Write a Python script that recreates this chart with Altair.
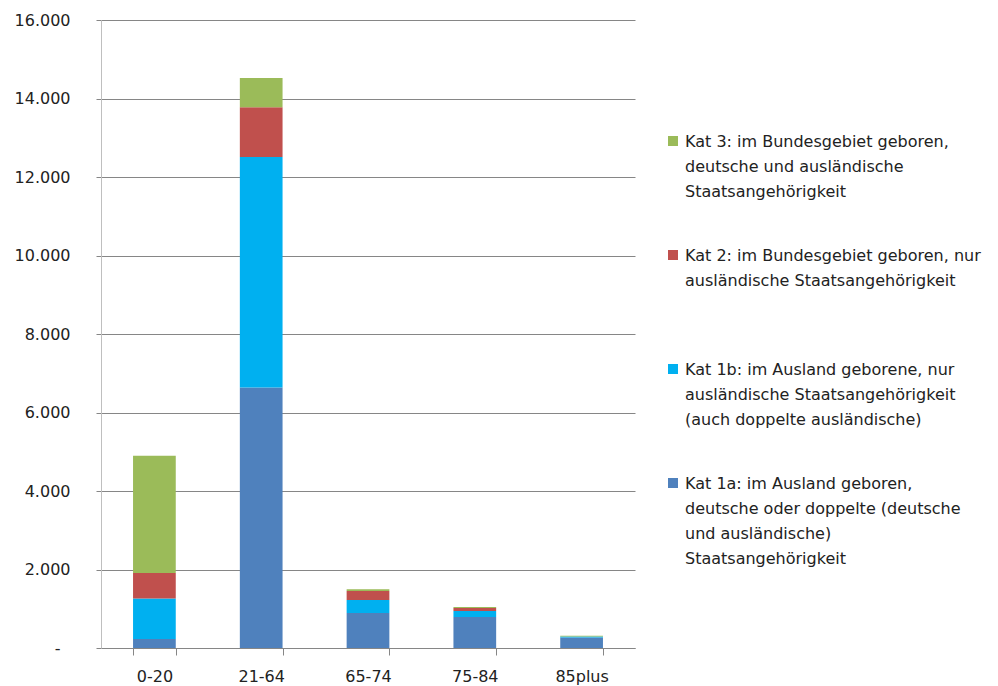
import altair as alt
import pandas as pd

categories = ["0-20", "21-64", "65-74", "75-84", "85plus"]
series = ["Kat 1a", "Kat 1b", "Kat 2", "Kat 3"]
kat1a = [230, 6640, 890, 790, 270]
kat1b = [1030, 5870, 330, 150, 20]
kat2 = [650, 1270, 230, 80, 5]
kat3 = [2990, 740, 50, 25, 15]
colors = ["#4F81BD", "#00B0F0", "#C0504D", "#9BBB59"]
legend_texts = [
    "Kat 1a: im Ausland geboren,|deutsche oder doppelte (deutsche|und ausländische)|Staatsangehörigkeit",
    "Kat 1b: im Ausland geborene, nur|ausländische Staatsangehörigkeit|(auch doppelte ausländische)",
    "Kat 2: im Bundesgebiet geboren, nur|ausländische Staatsangehörigkeit",
    "Kat 3: im Bundesgebiet geboren,|deutsche und ausländische|Staatsangehörigkeit",
]
y_ticks = [0, 2000, 4000, 6000, 8000, 10000, 12000, 14000, 16000]

FONT = "DejaVu Sans"
FSIZE = 16

values = [kat1a, kat1b, kat2, kat3]
rows = []
for si, (s, vals) in enumerate(zip(series, values)):
    for c, v in zip(categories, vals):
        rows.append({"Altersgruppe": c, "Kategorie": s, "Wert": v, "Stapel": si})
df = pd.DataFrame(rows)

legend_df = pd.DataFrame({
    "Kategorie": series,
    "Text": legend_texts,
})
legend_order = ["Kat 3", "Kat 2", "Kat 1b", "Kat 1a"]

color_scale = alt.Scale(domain=series, range=colors)

bars = alt.Chart(df).mark_bar().encode(
    x=alt.X("Altersgruppe:N", sort=categories,
            scale=alt.Scale(paddingInner=0.6, paddingOuter=0.3),
            axis=alt.Axis(title=None, labelAngle=0, tickBand="extent",
                          tickSize=7, tickColor="#868686", domainColor="#868686",
                          labelPadding=13, labelFontSize=FSIZE, labelColor="#222222",
                          labelFont=FONT, grid=False)),
    y=alt.Y("Wert:Q", stack="zero",
            scale=alt.Scale(domain=[0, 16000], nice=False),
            axis=alt.Axis(title=None, values=y_ticks, tickSize=5,
                          tickColor="#868686", domainColor="#BFBFBF",
                          gridColor="#868686",
                          labelPadding={"condition": {"test": "datum.value == 0", "value": 36}, "value": 26},
                          labelFontSize=FSIZE, labelColor="#222222", labelFont=FONT,
                          labelExpr="datum.value == 0 ? '-' : replace(format(datum.value, ','), ',', '.')")),
    color=alt.Color("Kategorie:N", scale=color_scale, legend=None),
    order=alt.Order("Stapel:Q", sort="ascending"),
).properties(width=534, height=628)

legend_y = alt.Y("Kategorie:N", sort=legend_order,
                 scale=alt.Scale(type="point", domain=legend_order, padding=1.0),
                 axis=None)

legend_sq = alt.Chart(legend_df).mark_square(size=100, opacity=1, yOffset=7).encode(
    x=alt.value(6),
    y=legend_y,
    color=alt.Color("Kategorie:N", scale=color_scale, legend=None),
)
legend_txt = alt.Chart(legend_df).mark_text(
    align="left", baseline="top", lineBreak="|", lineHeight=25,
    fontSize=FSIZE, color="#222222", font=FONT
).encode(
    x=alt.value(18),
    y=legend_y,
    text="Text:N",
)
legend_panel = alt.layer(legend_sq, legend_txt).properties(width=300, height=570)

chart = alt.hconcat(bars, legend_panel, spacing=30).configure(
    font=FONT, padding={"left": 5, "top": 3, "right": 5, "bottom": 5}
).configure_view(stroke="transparent")

chart.save("out.html", embed_options={"renderer": "svg", "actions": False})
